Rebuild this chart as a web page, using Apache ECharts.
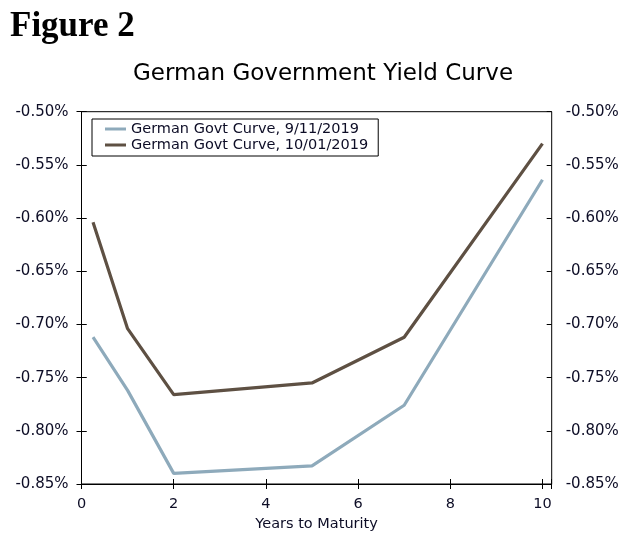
<!DOCTYPE html>
<html>
<head>
<meta charset="utf-8">
<script src="https://cdn.jsdelivr.net/npm/echarts@6/dist/echarts.min.js"></script>
<style>
html,body{margin:0;padding:0;background:#fff;}
#chart{width:641px;height:540px;}
</style>
</head>
<body>
<div id="chart"></div>
<script>
// Data
const maturities = [0.25, 1, 2, 5, 7, 10];
const curveSep11 = [-0.712, -0.762, -0.840, -0.833, -0.776, -0.564];
const curveOct01 = [-0.604, -0.704, -0.766, -0.755, -0.712, -0.530];
const seriesNames = ['German Govt Curve, 9/11/2019', 'German Govt Curve, 10/01/2019'];
const figureLabel = 'Figure 2';
const chartTitle = 'German Government Yield Curve';
const xAxisTitle = 'Years to Maturity';

const txt = '#0d0d26';
const font = 'DejaVu Sans';

function pairs(xs, ys) { return xs.map((x, i) => [x, ys[i]]); }

const yFmt = v => v.toFixed(2) + '%';
const xFmt = v => {
  const r = Math.round(v);
  return (Math.abs(v - r) < 1e-9 && r % 2 === 0) ? String(r) : '';
};

const yBase = { type: 'value', min: -0.85, max: -0.50, interval: 0.05, splitLine: { show: false } };
const xBase = { type: 'value', min: 0, max: 10.2, interval: 2, splitLine: { show: false } };

const chart = echarts.init(document.getElementById('chart'), null, { renderer: 'canvas' });
chart.setOption({
  backgroundColor: '#fff',
  animation: false,
  title: [
    { text: figureLabel, left: 5, top: 4, padding: 5,
      textStyle: { fontFamily: 'Liberation Serif', fontWeight: 'bold', fontSize: 35, color: '#000' } },
    { text: chartTitle, left: 128, top: 58, padding: 5,
      textStyle: { fontFamily: font, fontWeight: 'normal', fontSize: 23, color: '#000' } }
  ],
  grid: { left: 81.5, right: 89.3, top: 111.7, bottom: 56, show: true, borderColor: '#000', borderWidth: 1, containLabel: false },
  legend: {
    orient: 'vertical', left: 92, top: 119,
    borderColor: '#000', borderWidth: 1, borderRadius: 0,
    padding: [2, 10, 3, 13],
    itemWidth: 21, itemHeight: 3, itemGap: 0, itemTextGap: 1,
    icon: 'rect',
    textStyle: { fontFamily: font, fontSize: 14.5, color: txt, lineHeight: 16 },
    data: seriesNames
  },
  xAxis: [
    Object.assign({}, xBase, {
      position: 'bottom',
      name: xAxisTitle, nameLocation: 'middle', nameGap: 28,
      nameTextStyle: { fontFamily: font, fontSize: 14.5, color: txt },
      axisLine: { show: true, lineStyle: { color: '#000', width: 1 } },
      axisTick: { show: true, inside: false, length: 5, lineStyle: { color: '#000' } },
      axisLabel: { show: true, margin: 13, fontFamily: font, fontSize: 14.5, color: txt, formatter: xFmt }
    }),
    Object.assign({}, xBase, {
      position: 'bottom',
      axisLine: { show: false },
      axisTick: { show: true, inside: true, length: 5, lineStyle: { color: '#000' } },
      axisLabel: { show: false }
    })
  ],
  yAxis: [
    Object.assign({}, yBase, {
      position: 'left',
      axisLine: { show: true, lineStyle: { color: '#000', width: 1 } },
      axisTick: { show: true, inside: false, length: 5, lineStyle: { color: '#000' } },
      axisLabel: { show: true, margin: 13, fontFamily: font, fontSize: 15, color: txt, formatter: yFmt }
    }),
    Object.assign({}, yBase, {
      position: 'right',
      axisLine: { show: true, lineStyle: { color: '#000', width: 1 } },
      axisTick: { show: true, inside: false, length: 5, lineStyle: { color: '#000' } },
      axisLabel: { show: true, margin: 14, fontFamily: font, fontSize: 15, color: txt, formatter: yFmt }
    }),
    Object.assign({}, yBase, {
      position: 'left',
      axisLine: { show: false },
      axisTick: { show: true, inside: true, length: 5, lineStyle: { color: '#000' } },
      axisLabel: { show: false }
    }),
    Object.assign({}, yBase, {
      position: 'right',
      axisLine: { show: false },
      axisTick: { show: true, inside: true, length: 5, lineStyle: { color: '#000' } },
      axisLabel: { show: false }
    })
  ],
  series: [
    { name: seriesNames[0], type: 'line', xAxisIndex: 0, yAxisIndex: 0,
      data: pairs(maturities, curveSep11), showSymbol: false, symbol: 'none',
      color: '#8eaabb', lineStyle: { color: '#8eaabb', width: 3.2 } },
    { name: seriesNames[1], type: 'line', xAxisIndex: 0, yAxisIndex: 0,
      data: pairs(maturities, curveOct01), showSymbol: false, symbol: 'none',
      color: '#5e5043', lineStyle: { color: '#5e5043', width: 3.2 } }
  ]
});
</script>
</body>
</html>
